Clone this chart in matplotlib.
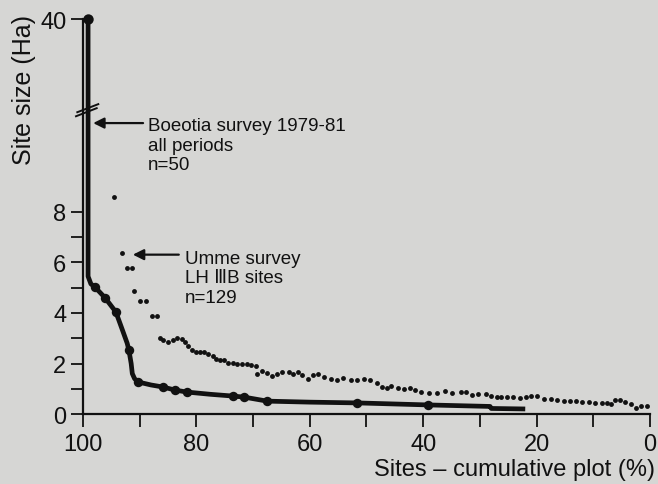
import matplotlib
matplotlib.use("Agg")
import matplotlib.pyplot as plt
import numpy as np

plt.rcParams['font.family'] = ['Liberation Sans', 'DejaVu Sans']

# Boeotia survey 1979-81, all periods (n=50): the curve and the big dots on it
boeotia_x = [99.1, 99.1, 98.6, 97.9, 96.1, 94.2, 93.0, 92.2, 91.9, 91.5, 91.3, 90.9, 90.3,
             88.0, 85.9, 83.8, 81.7, 77.5, 73.5, 71.6, 67.5, 60.0, 51.7, 39.2, 28.2, 28.0, 22.0]
boeotia_y = [40, 5.45, 5.15, 5.03, 4.6, 4.04, 3.3, 2.8, 2.53, 2.0, 1.6, 1.4, 1.27,
             1.15, 1.07, 0.95, 0.87, 0.78, 0.71, 0.67, 0.51, 0.47, 0.44, 0.36, 0.3, 0.22, 0.2]
dots_x = [99.1, 97.9, 96.1, 94.2, 91.9, 90.3, 85.9, 83.8, 81.7, 73.5, 71.6, 67.5, 51.7, 39.2]
dots_y = [40, 5.03, 4.6, 4.04, 2.53, 1.27, 1.07, 0.95, 0.87, 0.71, 0.67, 0.51, 0.44, 0.36]

# Umme survey, LH IIIB sites (n=129)
umme_x = [94.5, 93.1, 92.3, 91.4, 91.0, 90.0, 88.9, 87.8, 87.0,
          86.5, 85.8, 85.0, 84.2, 83.4, 82.6, 82.0, 81.4, 80.8, 80.1, 79.4, 78.6, 77.9,
          77.1, 76.5, 75.8, 75.1, 74.4, 73.6, 72.8, 72.0, 71.1, 70.3, 69.5,
          69.3, 68.4, 67.6, 66.7, 65.8, 64.9, 63.7, 62.9, 62.0, 61.3, 60.4, 59.5,
          58.5, 57.5, 56.3, 55.2, 54.1, 52.8, 51.7, 50.5, 49.4, 48.2, 47.3, 46.4,
          45.6, 44.5, 43.4, 42.3, 41.4, 40.3, 38.9, 37.6, 36.2, 34.9, 33.4, 32.5,
          31.4, 30.3, 29.0, 28.1, 27.0, 26.2, 25.3, 24.2, 22.9, 21.9, 20.9, 19.9,
          18.7, 17.5, 16.4, 15.2, 14.1, 13.1, 11.9, 10.7, 9.7, 8.5, 7.6, 6.9,
          6.2, 5.3, 4.4, 3.4, 2.5, 1.5, 0.5]
umme_y = [8.6, 6.38, 5.78, 5.78, 4.87, 4.48, 4.48, 3.88, 3.88,
          3.0, 2.94, 2.86, 2.94, 3.0, 2.97, 2.86, 2.71, 2.55, 2.44, 2.44, 2.44, 2.39,
          2.28, 2.18, 2.15, 2.13, 2.02, 2.02, 1.99, 1.99, 1.97, 1.94, 1.91,
          1.6, 1.71, 1.62, 1.52, 1.58, 1.68, 1.68, 1.58, 1.65, 1.54, 1.39, 1.54,
          1.58, 1.45, 1.39, 1.36, 1.41, 1.35, 1.36, 1.39, 1.34, 1.22, 1.08, 1.02,
          1.1, 1.04, 1.01, 1.02, 0.97, 0.86, 0.82, 0.85, 0.91, 0.85, 0.89, 0.86,
          0.77, 0.79, 0.78, 0.7, 0.67, 0.69, 0.69, 0.67, 0.62, 0.66, 0.7, 0.72,
          0.59, 0.59, 0.55, 0.51, 0.51, 0.51, 0.46, 0.46, 0.44, 0.45, 0.44, 0.38,
          0.55, 0.57, 0.49, 0.4, 0.23, 0.33, 0.33]

x_ticks = [0, 10, 20, 30, 40, 50, 60, 70, 80, 90, 100]
x_labels = ['0', '', '20', '', '40', '', '60', '', '80', '', '100']
y_ticks = [0, 1, 2, 3, 4, 5, 6, 7, 8, 40]
y_labels = ['0', '', '2', '', '4', '', '6', '', '8', '40']

# broken y axis: linear up to 12, squeezed above
BREAK = 12.0
SQUEEZE = 0.13


def fwd(y):
    y = np.asarray(y, float)
    return np.where(y <= BREAK, y, BREAK + (y - BREAK) * SQUEEZE)


def inv(t):
    t = np.asarray(t, float)
    return np.where(t <= BREAK, t, BREAK + (t - BREAK) / SQUEEZE)


bg = '#d6d6d4'
ink = '#111111'

fig = plt.figure(figsize=(6.58, 4.85), dpi=100, facecolor=bg)
ax = fig.add_axes([0.1261, 0.1443, 0.8617, 0.8144])
ax.set_facecolor(bg)
ax.set_yscale('function', functions=(fwd, inv))
ax.set_xlim(100, 0)
ax.set_ylim(0, 40)

ax.plot(umme_x, umme_y, 'o', ms=3.5, color=ink, mec='none', clip_on=False)
ax.plot(boeotia_x, boeotia_y, '-', lw=3.4, color=ink, solid_joinstyle='round',
        solid_capstyle='butt', clip_on=False)
ax.plot(dots_x[1:], dots_y[1:], 'o', ms=6.8, color=ink, mec='none', clip_on=False)
ax.plot(dots_x[:1], dots_y[:1], 'o', ms=7.5, color=ink, mec='none', clip_on=False, zorder=5)

# break marks on the axis
ax.plot([101.23, 97.58], inv([11.79, 12.11]), color=ink, lw=1.4, clip_on=False)
ax.plot([101.0, 97.3], inv([11.95, 12.27]), color=ink, lw=1.4, clip_on=False)

ax.set_xticks(x_ticks)
ax.set_xticklabels(x_labels)
ax.set_yticks(y_ticks)
ax.set_yticklabels(y_labels)
ax.minorticks_off()
ax.tick_params(axis='both', direction='out', length=9, width=1.3, color=ink,
               labelcolor=ink, labelsize=17)
ax.tick_params(axis='x', pad=5)
ax.tick_params(axis='y', pad=3)
for s in ['top', 'right']:
    ax.spines[s].set_visible(False)
for s in ['left', 'bottom']:
    ax.spines[s].set_linewidth(1.6)
    ax.spines[s].set_color(ink)

# annotations
arrow = dict(arrowstyle='-|>', lw=1.6, color=ink, mutation_scale=16, shrinkA=0, shrinkB=0)
ax.annotate('', xy=(98.2, 11.52), xytext=(89.4, 11.52), arrowprops=arrow)
ax.text(88.5, 10.65, 'Boeotia survey 1979-81\nall periods\nn=50', fontsize=13.5,
        color=ink, ha='left', va='center', linespacing=1.2)
ax.annotate('', xy=(91.2, 6.31), xytext=(83.1, 6.31), arrowprops=arrow)
ax.text(82.0, 5.39, 'Umme survey\nLH \u2162B sites\nn=129', fontsize=13.5,
        color=ink, ha='left', va='center', linespacing=1.2)

fig.text(0.995, 0.031, 'Sites \u2013 cumulative plot (%)', fontsize=17, color=ink,
         ha='right', va='center')
fig.text(0.036, 0.815, 'Site size (Ha)', fontsize=18, color=ink, rotation=90,
         ha='center', va='center')

fig.savefig('out.png', dpi=100, facecolor=bg)
